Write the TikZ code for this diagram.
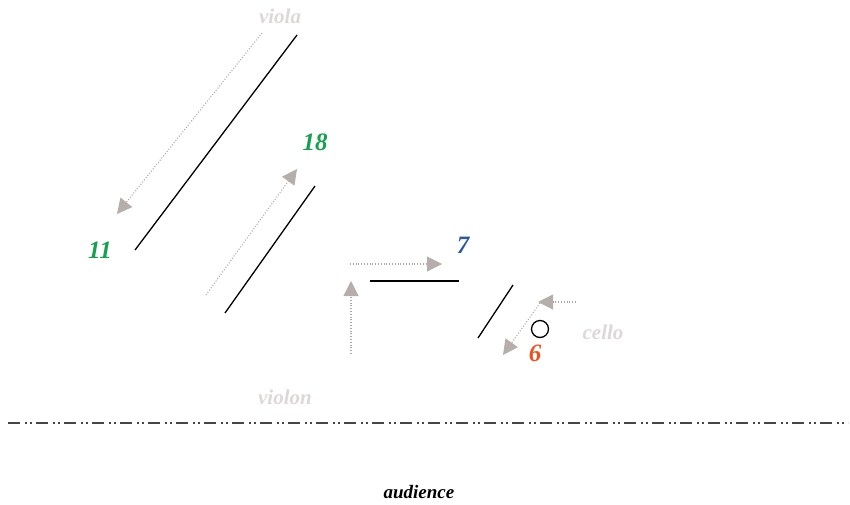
\documentclass[tikz,border=0pt]{standalone}
\usepackage{fontspec}
\setmainfont{Liberation Serif}
\usetikzlibrary{arrows.meta}
\definecolor{lbl}{HTML}{DDD8D7}
\definecolor{arr}{HTML}{B5AEAA}
\definecolor{dotc}{HTML}{AEA9A6}
\definecolor{grn}{HTML}{17A050}
\definecolor{blu}{HTML}{2A58A6}
\definecolor{org}{HTML}{F0501E}
\definecolor{stage}{HTML}{4A4545}
\begin{document}
\begin{tikzpicture}[x=1pt,y=-1pt,
  wall/.style={line width=1.3pt,black},
  flow/.style={dotc,line width=1.1pt,dash pattern=on 1pt off 1.8pt,-{Triangle[length=15pt,width=15pt,fill=arr,color=arr]}},
  inst/.style={lbl,font=\fontsize{21}{23}\selectfont\bfseries\itshape},
  num/.style={font=\fontsize{25}{27}\selectfont\bfseries\itshape}]
\useasboundingbox (0,0) rectangle (850,504);
% walls
\coordinate (w1a) at (297,35); \coordinate (w1b) at (135,250);
\coordinate (w2a) at (315,186); \coordinate (w2b) at (225,313);
\coordinate (w3a) at (370,281); \coordinate (w3b) at (459,281);
\coordinate (w4a) at (513,285); \coordinate (w4b) at (478,338);
\draw[wall] (w1a) -- (w1b);
\draw[wall] (w2a) -- (w2b);
\draw[wall] (w3a) -- (w3b);
\draw[wall] (w4a) -- (w4b);
\node[draw,circle,line width=1.3pt,minimum size=17pt,inner sep=0pt] (c) at (540,329) {};
% flows
\coordinate (v1s) at (262,33); \coordinate (v1e) at (117,214);
\draw[flow] (v1s) -- (v1e);
\coordinate (v2s) at (206,295); \coordinate (v2e) at (297,169);
\draw[flow] (v2s) -- (v2e);
\coordinate (v3s) at (351,354); \coordinate (v3e) at (351,281);
\draw[flow] (v3s) -- (v3e);
\coordinate (v4s) at (350,264); \coordinate (v4e) at (442,264);
\draw[flow] (v4s) -- (v4e);
\coordinate (c1s) at (576,302); \coordinate (c1e) at (538,302);
\draw[flow] (c1s) -- (c1e);
\coordinate (c2s) at (540,303); \coordinate (c2e) at (503,355);
\draw[flow] (c2s) -- (c2e);
% labels
\node[inst] (viola) at (280,16) {viola};
\node[inst] (cello) at (603,332) {cello};
\node[inst] (violon) at (285,397) {violon};
\node[num,grn] (n11) at (100,250) {11};
\node[num,grn] (n18) at (315,142) {18};
\node[num,blu] (n7) at (463,245) {7};
\node[num,org] (n6) at (535,353) {6};
% stage
\coordinate (s1) at (8,423); \coordinate (s2) at (848,423);
\draw[stage,line width=2pt,dash pattern=on 12pt off 5pt on 2pt off 3pt on 2pt off 4pt] (s1) -- (s2);
\node[font=\fontsize{19}{21}\selectfont\bfseries\itshape] (aud) at (419,492) {audience};
\end{tikzpicture}
\end{document}
